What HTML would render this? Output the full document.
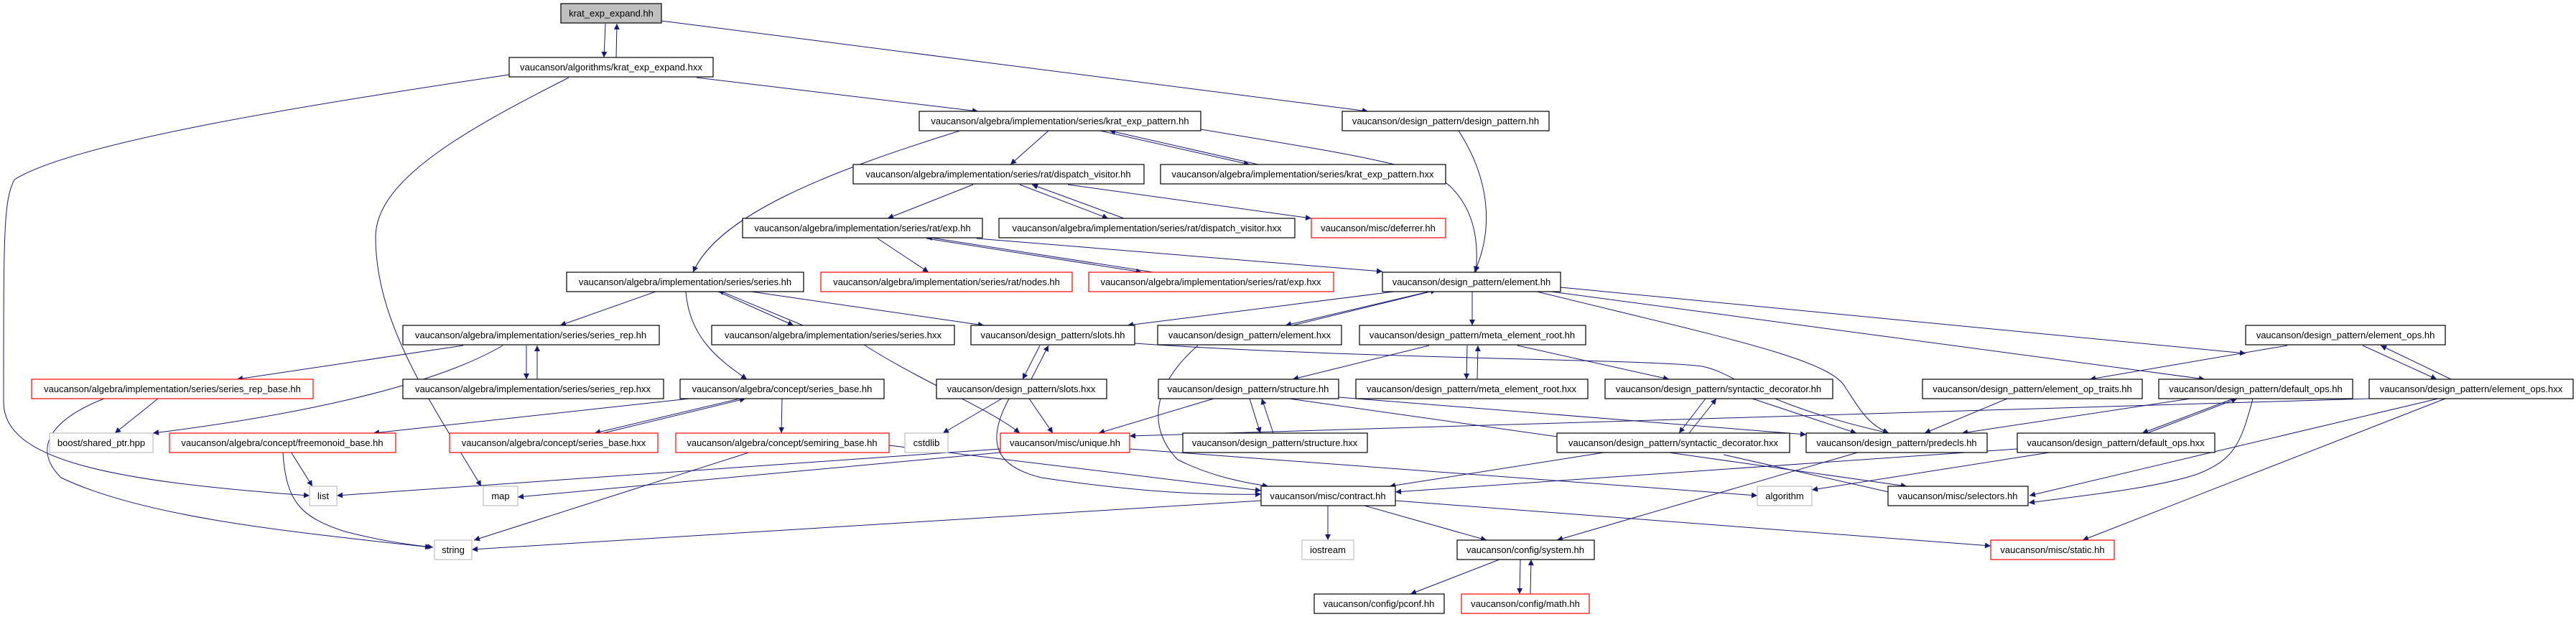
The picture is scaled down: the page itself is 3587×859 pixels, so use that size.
<!DOCTYPE html>
<html><head><meta charset="utf-8"><style>
html,body{margin:0;padding:0;background:#fff;}
svg{display:block;}
text{font-family:"Liberation Sans",sans-serif;font-size:13px;fill:#000;}
.b{fill:#fff;stroke:#000;stroke-width:1.2}
.r{fill:#fff;stroke:#f00;stroke-width:1.2}
.g{fill:#fff;stroke:#bfbfbf;stroke-width:1.2}
.e{fill:none;stroke:#191970;stroke-width:1;marker-end:url(#a)}
</style></head><body>
<svg width="3587" height="859" viewBox="0 0 3587 859" xmlns="http://www.w3.org/2000/svg">
<defs><marker id="a" viewBox="0 0 10 10" refX="10" refY="5" markerWidth="11" markerHeight="8" markerUnits="userSpaceOnUse" orient="auto"><path d="M0,0 L10,5 L0,10 z" fill="#191970"/></marker></defs>

<!-- edges -->
<path class="e" d="M843,33 L841,80"/>
<path class="e" d="M858,80 L859,33"/>
<path class="e" d="M921,29 L1905,155"/>
<path class="e" d="M970,108 L1362,155"/>
<path class="e" d="M709,104 C400,150 100,200 20,250 C5,280 5,320 5,560 C5,640 150,670 431,690"/>
<path class="e" d="M792,108 C650,180 523,250 523,330 C523,450 600,560 670,677"/>
<path class="e" d="M1337,182 C1150,240 1000,300 965,379"/>
<path class="e" d="M1460,182 L1407,229"/>
<path class="e" d="M1532,182 L1740,229"/>
<path class="e" d="M1752,229 L1545,182"/>
<path class="e" d="M1672,180 C1850,210 1990,230 2020,260 C2050,290 2060,330 2055,379"/>
<path class="e" d="M2031,182 C2075,250 2080,320 2053,379"/>
<path class="e" d="M1355,257 L1236,304"/>
<path class="e" d="M1420,257 L1543,304"/>
<path class="e" d="M1565,304 L1437,257"/>
<path class="e" d="M1487,257 L1826,304"/>
<path class="e" d="M1222,332 L1293,379"/>
<path class="e" d="M1290,332 L1590,379"/>
<path class="e" d="M1606,379 L1290,330"/>
<path class="e" d="M1360,332 L1925,378"/>
<path class="e" d="M913,406 L780,453"/>
<path class="e" d="M955,406 C960,470 1000,500 1040,528"/>
<path class="e" d="M1000,406 L1105,453"/>
<path class="e" d="M1118,453 L1000,404"/>
<path class="e" d="M1046,406 L1370,453"/>
<path class="e" d="M1941,406 L1570,453"/>
<path class="e" d="M1990,406 L1790,453"/>
<path class="e" d="M1800,453 L2000,404"/>
<path class="e" d="M2050,406 L2050,453"/>
<path class="e" d="M2140,406 C2400,470 2550,500 2570,540 C2590,570 2600,590 2630,603"/>
<path class="e" d="M2173,400 L3127,492"/>
<path class="e" d="M2160,406 L3070,528"/>
<path class="e" d="M1200,478 C1280,530 1380,570 1420,603"/>
<path class="e" d="M645,481 L330,528"/>
<path class="e" d="M700,481 C600,540 400,580 213,603"/>
<path class="e" d="M733,481 L733,528"/>
<path class="e" d="M748,528 L748,481"/>
<path class="e" d="M220,555 L160,603"/>
<path class="e" d="M145,555 C80,580 40,620 85,665 C200,720 400,740 600,762"/>
<path class="e" d="M960,555 L520,603"/>
<path class="e" d="M1030,555 L828,603"/>
<path class="e" d="M840,603 L1038,555"/>
<path class="e" d="M1089,555 L1088,603"/>
<path class="e" d="M405,629 L435,677"/>
<path class="e" d="M394,629 C398,700 420,720 480,740 C540,755 570,758 603,762"/>
<path class="e" d="M1046,629 L660,752"/>
<path class="e" d="M1756,697 L657,765"/>
<path class="e" d="M1393,625 L469,690"/>
<path class="e" d="M1393,630 L721,692"/>
<path class="e" d="M1238,620 L1756,683"/>
<path class="e" d="M1448,481 L1424,528"/>
<path class="e" d="M1436,528 L1460,481"/>
<path class="e" d="M1580,478 C1900,500 2300,500 2370,510 C2420,520 2440,560 2630,603"/>
<path class="e" d="M1395,555 L1313,603"/>
<path class="e" d="M1433,555 L1466,603"/>
<path class="e" d="M1405,555 C1370,620 1390,650 1450,665 C1550,680 1650,690 1756,688"/>
<path class="e" d="M1668,481 C1600,540 1600,600 1640,640 C1680,660 1720,670 1766,677"/>
<path class="e" d="M1990,481 L1800,528"/>
<path class="e" d="M2043,481 L2042,528"/>
<path class="e" d="M2057,528 L2058,481"/>
<path class="e" d="M2113,481 L2324,528"/>
<path class="e" d="M1690,555 L1530,603"/>
<path class="e" d="M1740,555 L1755,603"/>
<path class="e" d="M1773,603 L1757,555"/>
<path class="e" d="M1864,553 L2515,605"/>
<path class="e" d="M1795,555 L2655,677"/>
<path class="e" d="M2375,555 L2338,603"/>
<path class="e" d="M2352,603 L2390,555"/>
<path class="e" d="M2440,555 L2585,603"/>
<path class="e" d="M2240,629 L1935,677"/>
<path class="e" d="M2400,633 L2652,690"/>
<path class="e" d="M1573,625 L2447,690"/>
<path class="e" d="M3185,481 L2910,528"/>
<path class="e" d="M3290,481 L3393,528"/>
<path class="e" d="M3413,528 L3315,481"/>
<path class="e" d="M2795,555 L2680,603"/>
<path class="e" d="M3050,555 L2732,603"/>
<path class="e" d="M3110,555 L2983,603"/>
<path class="e" d="M2990,603 L3115,555"/>
<path class="e" d="M3137,555 C3120,620 3110,640 3060,660 C3000,680 2900,690 2825,700"/>
<path class="e" d="M3299,555 L1573,607"/>
<path class="e" d="M3395,555 L2826,690"/>
<path class="e" d="M3405,555 L2900,752"/>
<path class="e" d="M2809,625 L1943,685"/>
<path class="e" d="M2860,629 L2523,682"/>
<path class="e" d="M2590,629 L2168,752"/>
<path class="e" d="M1849,704 L1849,752"/>
<path class="e" d="M1900,704 L2070,752"/>
<path class="e" d="M1943,697 L2772,760"/>
<path class="e" d="M2088,779 L1964,827"/>
<path class="e" d="M2117,779 L2116,827"/>
<path class="e" d="M2131,827 L2132,779"/>

<!-- nodes -->
<g>
<rect x="781" y="5" width="140" height="27" fill="#bfbfbf" stroke="#000" stroke-width="1.2"/><text x="851" y="23" text-anchor="middle">krat_exp_expand.hh</text>
<rect class="b" x="709" y="80" width="284" height="27"/><text x="851" y="98" text-anchor="middle">vaucanson/algorithms/krat_exp_expand.hxx</text>
<rect class="b" x="1280" y="155" width="392" height="27"/><text x="1476" y="173" text-anchor="middle">vaucanson/algebra/implementation/series/krat_exp_pattern.hh</text>
<rect class="b" x="1869" y="155" width="288" height="27"/><text x="2013" y="173" text-anchor="middle">vaucanson/design_pattern/design_pattern.hh</text>
<rect class="b" x="1188" y="229" width="405" height="27"/><text x="1390" y="247" text-anchor="middle">vaucanson/algebra/implementation/series/rat/dispatch_visitor.hh</text>
<rect class="b" x="1616" y="229" width="397" height="27"/><text x="1814" y="247" text-anchor="middle">vaucanson/algebra/implementation/series/krat_exp_pattern.hxx</text>
<rect class="b" x="1034" y="304" width="334" height="27"/><text x="1201" y="322" text-anchor="middle">vaucanson/algebra/implementation/series/rat/exp.hh</text>
<rect class="b" x="1391" y="304" width="412" height="27"/><text x="1597" y="322" text-anchor="middle">vaucanson/algebra/implementation/series/rat/dispatch_visitor.hxx</text>
<rect class="r" x="1826" y="304" width="187" height="27"/><text x="1919" y="322" text-anchor="middle">vaucanson/misc/deferrer.hh</text>
<rect class="b" x="789" y="379" width="330" height="27"/><text x="954" y="397" text-anchor="middle">vaucanson/algebra/implementation/series/series.hh</text>
<rect class="r" x="1143" y="379" width="350" height="27"/><text x="1318" y="397" text-anchor="middle">vaucanson/algebra/implementation/series/rat/nodes.hh</text>
<rect class="r" x="1516" y="379" width="341" height="27"/><text x="1686" y="397" text-anchor="middle">vaucanson/algebra/implementation/series/rat/exp.hxx</text>
<rect class="b" x="1925" y="379" width="248" height="27"/><text x="2049" y="397" text-anchor="middle">vaucanson/design_pattern/element.hh</text>
<rect class="b" x="561" y="453" width="357" height="27"/><text x="739" y="471" text-anchor="middle">vaucanson/algebra/implementation/series/series_rep.hh</text>
<rect class="b" x="991" y="453" width="338" height="27"/><text x="1160" y="471" text-anchor="middle">vaucanson/algebra/implementation/series/series.hxx</text>
<rect class="b" x="1352" y="453" width="228" height="27"/><text x="1466" y="471" text-anchor="middle">vaucanson/design_pattern/slots.hh</text>
<rect class="b" x="1612" y="453" width="256" height="27"/><text x="1740" y="471" text-anchor="middle">vaucanson/design_pattern/element.hxx</text>
<rect class="b" x="1893" y="453" width="315" height="27"/><text x="2050" y="471" text-anchor="middle">vaucanson/design_pattern/meta_element_root.hh</text>
<rect class="b" x="3127" y="453" width="278" height="27"/><text x="3266" y="471" text-anchor="middle">vaucanson/design_pattern/element_ops.hh</text>
<rect class="r" x="44" y="528" width="392" height="27"/><text x="240" y="546" text-anchor="middle">vaucanson/algebra/implementation/series/series_rep_base.hh</text>
<rect class="b" x="561" y="528" width="363" height="27"/><text x="742" y="546" text-anchor="middle">vaucanson/algebra/implementation/series/series_rep.hxx</text>
<rect class="b" x="947" y="528" width="284" height="27"/><text x="1089" y="546" text-anchor="middle">vaucanson/algebra/concept/series_base.hh</text>
<rect class="b" x="1304" y="528" width="237" height="27"/><text x="1422" y="546" text-anchor="middle">vaucanson/design_pattern/slots.hxx</text>
<rect class="b" x="1613" y="528" width="251" height="27"/><text x="1738" y="546" text-anchor="middle">vaucanson/design_pattern/structure.hh</text>
<rect class="b" x="1888" y="528" width="323" height="27"/><text x="2049" y="546" text-anchor="middle">vaucanson/design_pattern/meta_element_root.hxx</text>
<rect class="b" x="2235" y="528" width="317" height="27"/><text x="2393" y="546" text-anchor="middle">vaucanson/design_pattern/syntactic_decorator.hh</text>
<rect class="b" x="2677" y="528" width="306" height="27"/><text x="2830" y="546" text-anchor="middle">vaucanson/design_pattern/element_op_traits.hh</text>
<rect class="b" x="3006" y="528" width="270" height="27"/><text x="3141" y="546" text-anchor="middle">vaucanson/design_pattern/default_ops.hh</text>
<rect class="b" x="3299" y="528" width="284" height="27"/><text x="3441" y="546" text-anchor="middle">vaucanson/design_pattern/element_ops.hxx</text>
<rect class="g" x="69" y="603" width="144" height="27"/><text x="141" y="621" text-anchor="middle">boost/shared_ptr.hpp</text>
<rect class="r" x="236" y="603" width="315" height="27"/><text x="393" y="621" text-anchor="middle">vaucanson/algebra/concept/freemonoid_base.hh</text>
<rect class="r" x="626" y="603" width="290" height="27"/><text x="771" y="621" text-anchor="middle">vaucanson/algebra/concept/series_base.hxx</text>
<rect class="r" x="941" y="603" width="297" height="27"/><text x="1089" y="621" text-anchor="middle">vaucanson/algebra/concept/semiring_base.hh</text>
<rect class="g" x="1260" y="603" width="60" height="27"/><text x="1290" y="621" text-anchor="middle">cstdlib</text>
<rect class="r" x="1393" y="603" width="180" height="27"/><text x="1483" y="621" text-anchor="middle">vaucanson/misc/unique.hh</text>
<rect class="b" x="1647" y="603" width="257" height="27"/><text x="1775" y="621" text-anchor="middle">vaucanson/design_pattern/structure.hxx</text>
<rect class="b" x="2168" y="603" width="324" height="27"/><text x="2330" y="621" text-anchor="middle">vaucanson/design_pattern/syntactic_decorator.hxx</text>
<rect class="b" x="2515" y="603" width="252" height="27"/><text x="2641" y="621" text-anchor="middle">vaucanson/design_pattern/predecls.hh</text>
<rect class="b" x="2809" y="603" width="275" height="27"/><text x="2946" y="621" text-anchor="middle">vaucanson/design_pattern/default_ops.hxx</text>
<rect class="g" x="431" y="677" width="38" height="27"/><text x="450" y="695" text-anchor="middle">list</text>
<rect class="g" x="673" y="677" width="48" height="27"/><text x="697" y="695" text-anchor="middle">map</text>
<rect class="b" x="1756" y="677" width="187" height="27"/><text x="1849" y="695" text-anchor="middle">vaucanson/misc/contract.hh</text>
<rect class="g" x="2447" y="677" width="76" height="27"/><text x="2485" y="695" text-anchor="middle">algorithm</text>
<rect class="b" x="2629" y="677" width="195" height="27"/><text x="2726" y="695" text-anchor="middle">vaucanson/misc/selectors.hh</text>
<rect class="g" x="605" y="752" width="52" height="27"/><text x="631" y="770" text-anchor="middle">string</text>
<rect class="g" x="1813" y="752" width="72" height="27"/><text x="1849" y="770" text-anchor="middle">iostream</text>
<rect class="b" x="2029" y="752" width="191" height="27"/><text x="2124" y="770" text-anchor="middle">vaucanson/config/system.hh</text>
<rect class="r" x="2772" y="752" width="172" height="27"/><text x="2858" y="770" text-anchor="middle">vaucanson/misc/static.hh</text>
<rect class="b" x="1830" y="827" width="181" height="27"/><text x="1920" y="845" text-anchor="middle">vaucanson/config/pconf.hh</text>
<rect class="r" x="2035" y="827" width="178" height="27"/><text x="2124" y="845" text-anchor="middle">vaucanson/config/math.hh</text>
</g>
</svg>
</body></html>
